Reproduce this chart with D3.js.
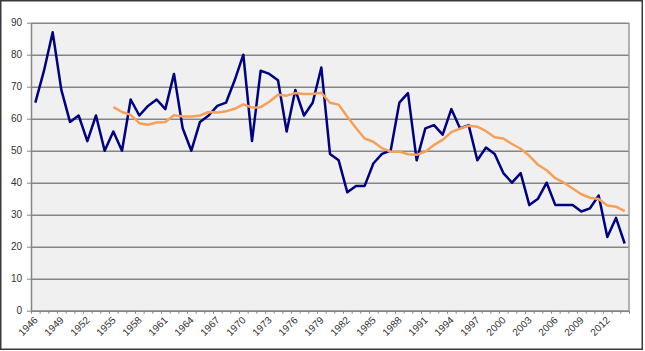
<!DOCTYPE html>
<html>
<head>
<meta charset="utf-8">
<script src="https://cdn.jsdelivr.net/npm/d3@7"></script>
<style>
  body { margin: 0; background: #fff; }
  svg text { font-family: "Liberation Sans", Arial, sans-serif; fill: #333; }
</style>
</head>
<body>
<svg id="chart" width="645" height="351"></svg>
<script>
"use strict";

// categories
const years = d3.range(1946, 2015);
const yTicks = [0, 10, 20, 30, 40, 50, 60, 70, 80, 90];

// annual values 1946..2014
const annual = [
  65, 75, 87, 69, 59, 61, 53, 61, 50, 56,
  50, 66, 61, 64, 66, 63, 74, 57, 50, 59,
  61, 64, 65, 72, 80, 53, 75, 74, 72, 56,
  69, 61, 65, 76, 49, 47, 37, 39, 39, 46,
  49, 50, 65, 68, 47, 57, 58, 55, 63, 57,
  58, 47, 51, 49, 43, 40, 43, 33, 35, 40,
  33, 33, 33, 31, 32, 36, 23, 29, 21
];

// smoothed trend, 1955..2014
const trendStart = 1955;
const trend = [
  63.6, 62.1, 61.2, 58.6, 58.1, 58.8, 59.0, 61.1, 60.7, 60.7,
  61.0, 62.1, 61.9, 62.3, 63.1, 64.5, 63.5, 63.6, 65.3, 67.5,
  67.2, 68.0, 67.7, 67.7, 68.1, 65.0, 64.4, 60.6, 57.1, 53.8,
  52.8, 50.8, 49.7, 49.7, 48.9, 48.7, 49.7, 51.8, 53.4, 55.8,
  56.9, 57.8, 57.5, 56.1, 54.2, 53.8, 52.1, 50.6, 48.4, 45.6,
  43.9, 41.4, 40.0, 38.2, 36.4, 35.3, 34.9, 32.9, 32.5, 31.1
];

const svg = d3.select('#chart');
const plot = { left: 31, top: 22.7, right: 629, bottom: 310.7 };

// outer frame
svg.append('rect')
  .attr('x', 0.75).attr('y', 0.75)
  .attr('width', 641.5).attr('height', 348.5)
  .attr('fill', '#fff')
  .attr('stroke', '#3a3a3a')
  .attr('stroke-width', 1.5);

svg.append('rect')
  .attr('x', plot.left).attr('y', plot.top)
  .attr('width', plot.right - plot.left)
  .attr('height', plot.bottom - plot.top)
  .attr('fill', '#f0f0f0');

const x = d3.scaleBand().domain(years).range([plot.left, plot.right]).padding(0);
const xEdge = d3.scaleLinear().domain([0, years.length]).range([plot.left, plot.right]);
const y = d3.scaleLinear().domain([0, 90]).range([plot.bottom, plot.top]);
const cx = (yr) => x(yr) + x.bandwidth() / 2;

// gridlines
svg.append('g')
  .attr('transform', `translate(${plot.left},0)`)
  .call(d3.axisLeft(y).tickValues(yTicks).tickSize(-(plot.right - plot.left)).tickFormat(''))
  .call(g => g.select('.domain').remove())
  .call(g => g.selectAll('line').attr('stroke', '#858585').attr('stroke-width', 1.5));

// plot right border
svg.append('line')
  .attr('x1', plot.right).attr('x2', plot.right)
  .attr('y1', plot.top).attr('y2', plot.bottom)
  .attr('stroke', '#9a9a9a').attr('stroke-width', 1.5);

// y axis
svg.append('g')
  .attr('transform', `translate(${plot.left},0)`)
  .call(d3.axisLeft(y).tickValues(yTicks).tickSize(4).tickPadding(5).tickSizeOuter(0))
  .call(g => g.select('.domain').attr('stroke', '#858585').attr('stroke-width', 1.5))
  .call(g => g.selectAll('line').attr('stroke', '#858585'))
  .call(g => g.selectAll('text').attr('font-size', 10).attr('fill', '#333'));

// x axis tick marks at category edges
svg.append('g')
  .attr('transform', `translate(0,${plot.bottom})`)
  .call(d3.axisBottom(xEdge).tickValues(d3.range(years.length + 1)).tickSize(3).tickFormat('').tickSizeOuter(0))
  .call(g => g.select('.domain').attr('stroke', '#858585').attr('stroke-width', 1.5))
  .call(g => g.selectAll('line').attr('stroke', '#858585'));

// x labels every third year
const xLabels = svg.append('g')
  .attr('transform', `translate(0,${plot.bottom})`)
  .call(d3.axisBottom(x).tickValues(years.filter((d, i) => i % 3 === 0)).tickSize(0).tickSizeOuter(0))
  .call(g => g.select('.domain').remove());

xLabels.selectAll('text')
  .attr('font-size', 10)
  .attr('fill', '#333')
  .attr('text-anchor', 'end')
  .attr('dy', null)
  .attr('y', 0)
  .attr('transform', 'translate(3,10) rotate(-45)');

const line = d3.line()
  .x(d => cx(d.year))
  .y(d => y(d.value));

svg.append('path')
  .datum(years.map((yr, i) => ({ year: yr, value: annual[i] })))
  .attr('fill', 'none')
  .attr('stroke', '#000080')
  .attr('stroke-width', 2.5)
  .attr('stroke-linejoin', 'round')
  .attr('d', line);

svg.append('path')
  .datum(trend.map((v, i) => ({ year: trendStart + i, value: v })))
  .attr('fill', 'none')
  .attr('stroke', '#f5a05a')
  .attr('stroke-width', 2.5)
  .attr('stroke-linejoin', 'round')
  .attr('d', line);
</script>
</body>
</html>
